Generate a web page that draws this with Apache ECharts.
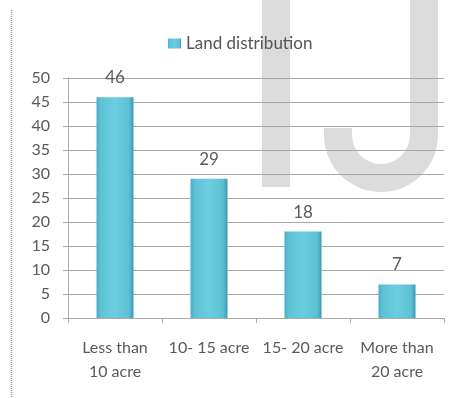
<!DOCTYPE html>
<html>
<head>
<meta charset="utf-8">
<script src="https://cdn.jsdelivr.net/npm/echarts@6/dist/echarts.min.js"></script>
<style>
  html, body { margin: 0; padding: 0; background: #ffffff; }
  #wrap { position: relative; width: 458px; height: 398px; }
  #mark { position: absolute; left: 0; top: 0; z-index: 0; }
  #chart { position: absolute; left: 0; top: 0; width: 458px; height: 398px; z-index: 1; }
</style>
</head>
<body>
<div id="wrap">
  <!-- light grey "IJ" mark sitting underneath the transparent chart canvas -->
  <svg id="mark" width="458" height="398" xmlns="http://www.w3.org/2000/svg">
    <rect x="262" y="0" width="28" height="187" fill="#dcdcdc"/>
    <path d="M410 0 H438 V135 A57 57 0 0 1 324 135 V128 H352 V135 A29 29 0 0 0 410 135 Z" fill="#dcdcdc"/>
  </svg>
  <div id="chart"></div>
</div>
<script>
// Land holdings by size class
const categories = ['Less than\n10 acre', '10- 15 acre', '15- 20 acre', 'More than\n20 acre'];
const seriesName = 'Land distribution';
const landValues = [46, 29, 18, 7];
const yTicks = [0, 5, 10, 15, 20, 25, 30, 35, 40, 45, 50];

const chart = echarts.init(document.getElementById('chart'), null, { renderer: 'canvas' });
const textColor = '#5a5a5a';
const fontFamily = 'Lato, "Open Sans", sans-serif';

chart.setOption({
  animation: false,
  backgroundColor: 'transparent',
  textStyle: { fontFamily: fontFamily },
  graphic: [
    // page border on the left
    { type: 'line', shape: { x1: 11.5, y1: 10, x2: 11.5, y2: 398 },
      style: { stroke: '#9a9a9a', lineWidth: 1.5, lineDash: [1, 1] } }
  ],
  legend: {
    left: 163, top: 30,
    itemWidth: 13, itemHeight: 10, itemGap: 5,
    textStyle: { color: '#555555', fontSize: 17, fontFamily: fontFamily },
    data: [{ name: seriesName, icon: 'rect' }]
  },
  grid: { left: 68, right: 14, top: 78, bottom: 80, containLabel: false },
  xAxis: {
    type: 'category',
    data: categories,
    axisLine: { lineStyle: { color: '#aaaaaa', width: 1 } },
    axisTick: { show: true, length: 5, lineStyle: { color: '#aaaaaa' } },
    axisLabel: { color: textColor, fontSize: 16, margin: 18, lineHeight: 24, interval: 0 }
  },
  yAxis: {
    type: 'value',
    min: 0, max: 50, interval: 5,
    axisLine: { show: true, lineStyle: { color: '#aaaaaa', width: 1 } },
    axisTick: { show: true, length: 5, lineStyle: { color: '#aaaaaa' } },
    splitLine: { lineStyle: { color: '#a8a8a8', width: 1 } },
    axisLabel: {
      color: textColor, fontSize: 16, margin: 18,
      formatter: function (v) { return yTicks.indexOf(v) >= 0 ? String(v) : ''; }
    }
  },
  series: [{
    name: seriesName,
    type: 'bar',
    data: landValues,
    barWidth: 37,
    itemStyle: {
      color: {
        type: 'linear', x: 0, y: 0, x2: 1, y2: 0,
        colorStops: [
          { offset: 0, color: '#4aafc6' },
          { offset: 0.12, color: '#5ec3d8' },
          { offset: 0.5, color: '#6ccddf' },
          { offset: 0.88, color: '#5cc0d5' },
          { offset: 1, color: '#3a9ab0' }
        ]
      }
    },
    label: {
      show: true, position: 'top', distance: 11,
      color: textColor, fontSize: 17, fontFamily: fontFamily
    }
  }]
});
</script>
</body>
</html>
